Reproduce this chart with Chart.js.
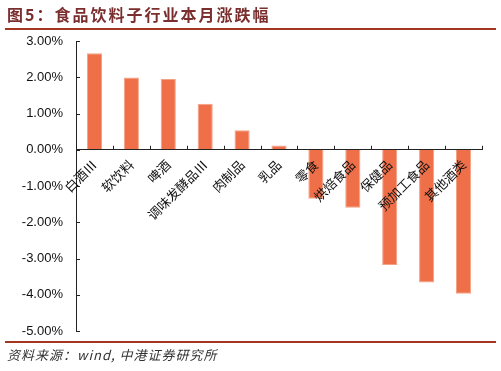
<!DOCTYPE html>
<html>
<head>
<meta charset="utf-8">
<script src="https://cdn.jsdelivr.net/npm/chart.js@4/dist/chart.umd.min.js"></script>
<style>
  html, body { margin: 0; padding: 0; background: #fff; }
  #wrap { position: relative; width: 501px; height: 371px; overflow: hidden; }
  #c { position: absolute; left: 0; top: 0; }
  #title { position: absolute; left: 7px; top: 3px; font-family: "Noto Sans CJK SC", sans-serif; font-weight: bold; font-size: 16px; letter-spacing: 2px; color: #7a2e2e; white-space: nowrap; line-height: 22px; }
  .rule { position: absolute; left: 5px; width: 491px; height: 2px; background: #a3361c; }
  #source { position: absolute; left: 7px; top: 346px; font-family: "Noto Sans CJK SC", sans-serif; font-style: italic; font-size: 13px; color: #333; white-space: nowrap; line-height: 18px; letter-spacing: 1px; }
</style>
</head>
<body>
<div id="wrap">
  <canvas id="c" width="501" height="371"></canvas>
  <div id="title">图5：食品饮料子行业本月涨跌幅</div>
  <div class="rule" style="top:28px"></div>
  <div class="rule" style="top:341px"></div>
  <div id="source">资料来源：wind, 中港证券研究所</div>
</div>
<script>
const categories = ["白酒Ⅲ", "软饮料", "啤酒", "调味发酵品Ⅲ", "肉制品", "乳品", "零食", "烘焙食品", "保健品", "预加工食品", "其他酒类"];
const changePct = [2.66, 1.99, 1.95, 1.27, 0.54, 0.12, -1.35, -1.60, -3.18, -3.66, -3.97];
const yMin = -5;
const yMax = 3;
const yStep = 1;

const innerTicks = {
  id: 'innerTicks',
  afterDraw(chart) {
    const ctx = chart.ctx;
    const xs = chart.scales.x, ys = chart.scales.y;
    const x0 = ys.left + ys.width;
    const y0 = ys.getPixelForValue(0);
    ctx.save();
    ctx.strokeStyle = '#222';
    ctx.lineWidth = 1;
    ctx.beginPath();
    ys.ticks.forEach(t => {
      const y = Math.round(ys.getPixelForValue(t.value)) + 0.5;
      ctx.moveTo(x0, y); ctx.lineTo(x0 + 4, y);
    });
    const n = categories.length;
    for (let i = 0; i <= n; i++) {
      const x = Math.round(xs.getPixelForValue(i - 0.5)) + 0.5;
      ctx.moveTo(x, y0); ctx.lineTo(x, y0 - 4);
    }
    ctx.stroke();
    ctx.restore();
  }
};

new Chart(document.getElementById('c'), {
  type: 'bar',
  data: {
    labels: categories,
    datasets: [{
      data: changePct,
      backgroundColor: '#ee6f48',
      borderColor: '#f3a186',
      borderWidth: 1,
      barPercentage: 0.41,
      categoryPercentage: 1
    }]
  },
  options: {
    responsive: false,
    devicePixelRatio: 1,
    animation: false,
    layout: { padding: { left: 0, right: 19, top: 41, bottom: 40 } },
    plugins: { legend: { display: false }, tooltip: { enabled: false } },
    scales: {
      x: {
        position: { y: 0 },
        afterFit: s => { s.height = 0; },
        grid: { display: false, drawTicks: false },
        border: { display: true, color: '#222', width: 1, z: 1 },
        ticks: {
          z: 1,
          autoSkip: false,
          minRotation: 45,
          maxRotation: 45,
          padding: 7,
          color: '#111',
          font: { family: '"Noto Sans CJK SC", sans-serif', size: 13 }
        }
      },
      y: {
        min: yMin,
        max: yMax,
        afterFit: s => { s.width = 76; },
        grid: { display: false, drawTicks: false },
        border: { display: true, color: '#222', width: 1 },
        ticks: {
          stepSize: yStep,
          padding: 13,
          color: '#111',
          font: { family: '"Liberation Sans", Arial, sans-serif', size: 13 },
          callback: v => v.toFixed(2) + '%'
        }
      }
    }
  },
  plugins: [innerTicks]
});
</script>
</body>
</html>
